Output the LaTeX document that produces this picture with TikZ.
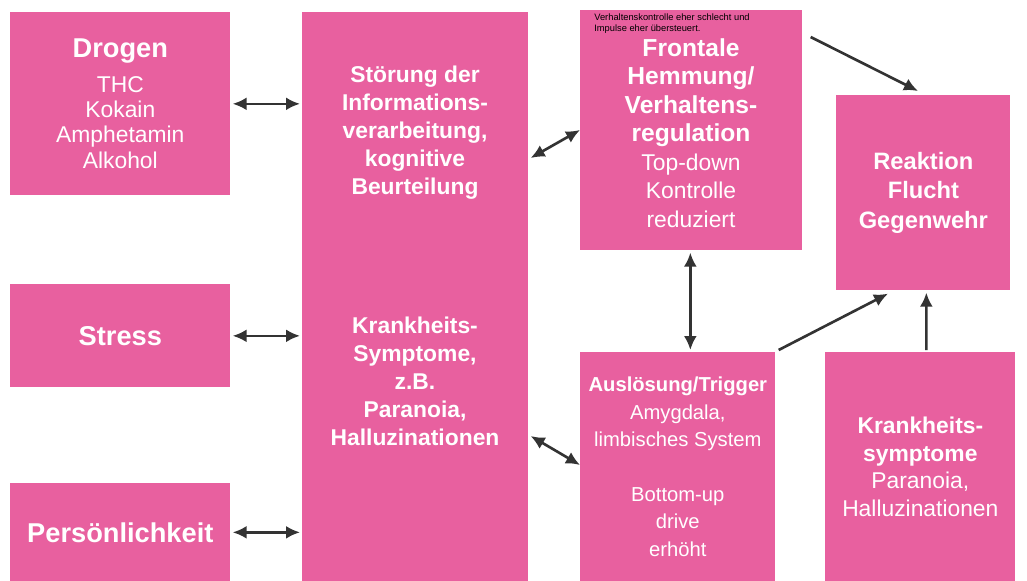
\documentclass[tikz,border=0pt]{standalone}
\usepackage{fontspec}
\setmainfont{Liberation Sans}
\usepackage{tikz}
\usepackage{xcolor}
\usetikzlibrary{arrows.meta,positioning,calc}
\definecolor{boxpink}{HTML}{E8609F}
\definecolor{arrowgray}{HTML}{333333}
\tikzset{
  pinkBox/.style={fill=boxpink, draw=none, anchor=north west, align=center, inner sep=0pt, text=white},
  boxText/.style={align=center, inner sep=0pt, text=white},
  dblArrow/.style={{Latex[length=2.8mm,width=2.6mm]}-{Latex[length=2.8mm,width=2.6mm]}, line width=1.5pt, draw=arrowgray},
  oneArrow/.style={-{Latex[length=2.8mm,width=2.6mm]}, line width=1.5pt, draw=arrowgray},
  smallNote/.style={align=left, inner sep=0pt, anchor=north west, text=black, font=\fontsize{5.3}{6.5}\selectfont}
}

\begin{document}
\begin{tikzpicture}[x=0.02cm, y=-0.02cm]
  \useasboundingbox (0,0) rectangle (1027,581);

  % left column
  \node[pinkBox, minimum width=4.40cm, minimum height=3.66cm, font=\fontsize{13}{14.5}\selectfont] (drogen) at (10,12)
    {{\fontsize{15.5}{14.5}\selectfont\bfseries Drogen}\\[5pt] THC\\ Kokain\\ Amphetamin\\ Alkohol};
  \node[pinkBox, minimum width=4.40cm, minimum height=2.06cm, font=\fontsize{15.5}{18}\selectfont\bfseries] (stress) at (10,284) {Stress};
  \node[pinkBox, minimum width=4.40cm, minimum height=1.96cm, font=\fontsize{15.5}{18}\selectfont\bfseries] (person) at (10,483) {Persönlichkeit};

  % middle column
  \node[pinkBox, minimum width=4.52cm, minimum height=11.38cm] (stoerung) at (302,12) {};
  \node[boxText, font=\fontsize{13}{15.9}\selectfont\bfseries] (stoerText) at (415,133)
    {Störung der\\ Informations-\\ verarbeitung,\\ kognitive\\ Beurteilung};
  \node[boxText, font=\fontsize{13}{15.9}\selectfont\bfseries] (symText) at (415,381)
    {Krankheits-\\ Symptome,\\ z.B.\\ Paranoia,\\ Halluzinationen};

  % frontal
  \node[pinkBox, minimum width=4.44cm, minimum height=4.80cm] (frontal) at (580,10) {};
  \node[smallNote] (note) at ($(frontal.north west)+(14,3)$)
    {Verhaltenskontrolle eher schlecht und\\ Impulse eher übersteuert.};
  \node[boxText, font=\fontsize{13}{16.2}\selectfont] (frontText) at (691,133)
    {{\fontsize{14}{16.2}\selectfont\bfseries Frontale}\\ {\fontsize{14}{16.2}\selectfont\bfseries Hemmung/}\\
     {\fontsize{14}{16.2}\selectfont\bfseries Verhaltens-}\\ {\fontsize{14}{16.2}\selectfont\bfseries regulation}\\
     Top-down\\ Kontrolle\\ reduziert};

  % right side
  \node[pinkBox, minimum width=3.48cm, minimum height=3.90cm, font=\fontsize{13.5}{17}\selectfont\bfseries] (reaktion) at (836,95)
    {Reaktion\\ Flucht\\ Gegenwehr};
  \node[pinkBox, minimum width=3.90cm, minimum height=4.58cm, font=\fontsize{11.5}{15.6}\selectfont] (trigger) at (580,352)
    {\textbf{Auslösung/Trigger}\\ Amygdala,\\ limbisches System\\[15.6pt] Bottom-up\\ drive\\ erhöht};
  \node[pinkBox, minimum width=3.80cm, minimum height=4.58cm, font=\fontsize{13}{15.9}\selectfont] (symptome) at (825,352)
    {\textbf{Krankheits-}\\ \textbf{symptome}\\ Paranoia,\\ Halluzinationen};

  \draw[dblArrow] ($(drogen.east)+(2,0)$) -- ($(stoerung.west |- drogen.east)+(-2,0)$);
  \draw[dblArrow] ($(stress.east)+(2,0)$) -- ($(stoerung.west |- stress.east)+(-2,0)$);
  \draw[dblArrow] ($(person.east)+(2,0)$) -- ($(stoerung.west |- person.east)+(-2,0)$);
  \draw[dblArrow] ($(stoerung.north east)+(2,146)$) -- ($(frontal.north west)+(0,120)$);
  \draw[dblArrow] ($(stoerung.north east)+(2,424)$) -- ($(trigger.north west)+(0,113)$);
  \draw[dblArrow] ($(frontal.south)+(-1,2)$) -- ($(frontal.south |- trigger.north)+(-1,-2)$);
  \draw[oneArrow] ($(frontal.north east)+(8,27)$) -- ($(reaktion.north west)+(82,-4)$);
  \draw[oneArrow] ($(trigger.north east)+(3,-2)$) -- ($(reaktion.south west)+(52,3)$);
  \draw[oneArrow] ($(symptome.north)+(6,-2)$) -- ($(reaktion.south)+(3,2)$);
\end{tikzpicture}
\end{document}
